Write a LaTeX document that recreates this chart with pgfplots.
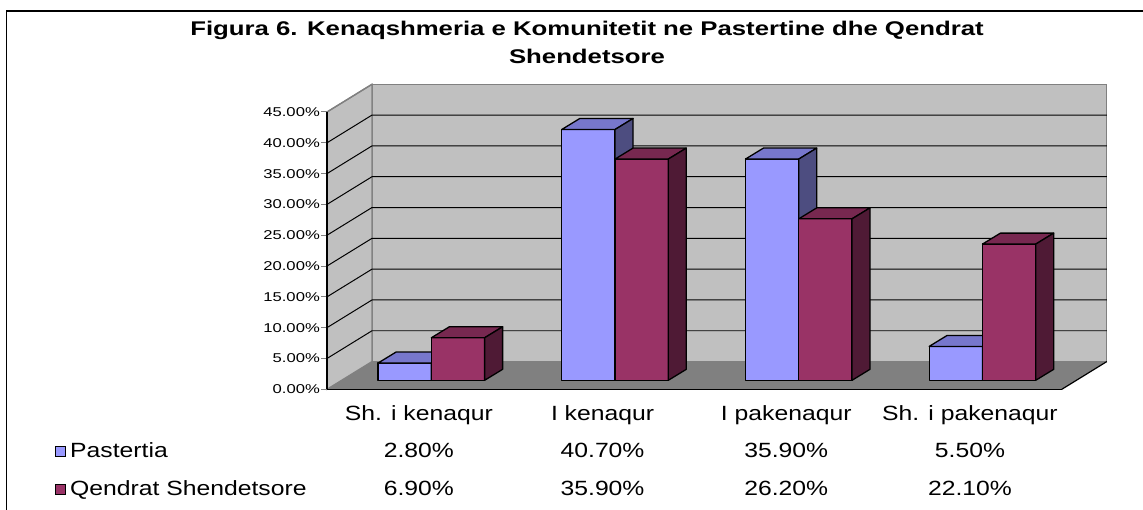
\documentclass[border=0pt]{standalone}
\usepackage{fontspec}
\setmainfont{Liberation Sans}[FakeStretch=1.3]
\newfontfamily\tblfamily{Liberation Sans}[FakeStretch=1.2]
\usepackage{pgfplots}
\usepackage{pgfplotstable}
\pgfplotsset{compat=1.18}
\pgfkeys{/pgf/number format/assume math mode=true}

\definecolor{pfront}{HTML}{9999FF}
\definecolor{ptop}{HTML}{7777CC}
\definecolor{pside}{HTML}{4D4D80}
\definecolor{qfront}{HTML}{993366}
\definecolor{qtop}{HTML}{772850}
\definecolor{qside}{HTML}{4F1A35}
\definecolor{wall}{HTML}{C0C0C0}
\definecolor{floorc}{HTML}{808080}

\pgfplotstableread{
cat P Q
0 2.8 6.9
1 40.7 35.9
2 35.9 26.2
3 5.5 22.1
}\datatable

% fake 3D: depth of the walls and of a bar, in axis units
\def\wdx{0.245}\def\wdy{4.5}
\def\bdx{0.098}\def\bdy{1.785}
\def\ybase{1.46}\def\bw{0.29}

\newcommand\drawbar[5]{%
  \pgfmathsetmacro\xa{#1}%
  \pgfmathsetmacro\xb{#1+\bw}%
  \pgfmathsetmacro\xc{#1+\bdx}%
  \pgfmathsetmacro\xd{#1+\bw+\bdx}%
  \pgfmathsetmacro\ya{\ybase}%
  \pgfmathsetmacro\yb{\ybase+#2}%
  \pgfmathsetmacro\yc{\ybase+\bdy}%
  \pgfmathsetmacro\yd{\ybase+#2+\bdy}%
  \edef\temp{%
    \noexpand\addplot[fill=#3,draw=black,line width=1.3pt,line join=round] coordinates {(\xa,\ya) (\xb,\ya) (\xb,\yb) (\xa,\yb)} -- cycle;
    \noexpand\addplot[fill=#4,draw=black,line width=1.3pt,line join=round] coordinates {(\xa,\yb) (\xc,\yd) (\xd,\yd) (\xb,\yb)} -- cycle;
    \noexpand\addplot[fill=#5,draw=black,line width=1.3pt,line join=round] coordinates {(\xb,\ya) (\xd,\yc) (\xd,\yd) (\xb,\yb)} -- cycle;
  }\temp
}

\newcommand\tblfont{\tblfamily\fontsize{20.6bp}{24bp}\selectfont}

\begin{document}
\begin{tikzpicture}[x=1bp,y=1bp]
\useasboundingbox (0,0) rectangle (1143,510);
\draw[line width=1.5bp] (6.5,0) -- (6.5,499) -- (1143,499);

\node[anchor=base,font=\fontsize{19.8bp}{24bp}\selectfont\bfseries] at (587,474.5)
  {Figura 6. Kenaqshmeria e Komunitetit ne Pastertine dhe Qendrat};
\node[anchor=base,font=\fontsize{19.8bp}{24bp}\selectfont\bfseries] at (587,446) {Shendetsore};

\begin{axis}[
  at={(327bp,120.7bp)}, anchor=south west,
  scale only axis, width=734.8bp, height=277.3bp,
  xmin=-0.5, xmax=3.5, ymin=0, ymax=45,
  clip=false, axis on top,
  axis y line*=left, axis x line*=bottom,
  axis line style={line width=1.3pt},
  xtick={0,1,2,3},
  xticklabels={Sh. i kenaqur, I kenaqur, I pakenaqur, Sh. i pakenaqur},
  xtick style={draw=none},
  xticklabel style={anchor=base, yshift=-25.3bp, font=\tblfont},
  ytick={0,5,...,45},
  tick align=outside, major tick length=6bp,
  ytick style={line width=1pt},
  yticklabel={\pgfmathprintnumber[fixed,fixed zerofill,precision=2]{\tick}\%},
  yticklabel style={font=\fontsize{12.8bp}{14bp}\selectfont, inner sep=1bp},
]
% walls and floor
\fill[wall, draw=floorc, line width=1.3pt] (axis cs:-0.255,4.5) rectangle (axis cs:3.745,49.5);
\fill[wall, draw=floorc, line width=1.3pt] (axis cs:-0.5,0) -- (axis cs:-0.255,4.5) -- (axis cs:-0.255,49.5) -- (axis cs:-0.5,45) -- cycle;
\fill[floorc] (axis cs:-0.5,0) -- (axis cs:3.5,0) -- (axis cs:3.745,4.5) -- (axis cs:-0.255,4.5) -- cycle;
\draw[black, line width=1.2pt] (axis cs:3.5,0) -- (axis cs:3.745,4.5);
\foreach \v in {5,10,...,40} {
  \pgfmathsetmacro\vb{\v+4.5}
  \edef\temp{\noexpand\draw[black, line width=1pt] (axis cs:-0.5,\v) -- (axis cs:-0.255,\vb) -- (axis cs:3.745,\vb);}
  \temp
}
\draw[floorc, line width=1.3pt] (axis cs:-0.5,45) -- (axis cs:-0.255,49.5);
% bars and data table
\foreach \i in {0,1,2,3} {
  \pgfplotstablegetelem{\i}{P}\of\datatable \let\vp\pgfplotsretval
  \pgfplotstablegetelem{\i}{Q}\of\datatable \let\vq\pgfplotsretval
  \drawbar{\i-0.222}{\vp}{pfront}{ptop}{pside}
  \drawbar{\i+0.068}{\vq}{qfront}{qtop}{qside}
  \edef\temp{%
    \noexpand\node[anchor=base,font=\noexpand\tblfont] at (axis cs:\i,-11.08) {\noexpand\pgfmathprintnumber[fixed,fixed zerofill,precision=2]{\vp}\noexpand\%};
    \noexpand\node[anchor=base,font=\noexpand\tblfont] at (axis cs:\i,-17.25) {\noexpand\pgfmathprintnumber[fixed,fixed zerofill,precision=2]{\vq}\noexpand\%};
  }\temp
}
\end{axis}

% legend keys of the data table
\draw[fill=pfront, line width=1.2bp] (55.5,53.5) rectangle (65.5,63.5);
\draw[fill=qfront, line width=1.2bp] (55.5,15.5) rectangle (65.5,25.5);
\node[anchor=base west, font=\tblfont, inner sep=0pt] at (70,52.4) {Pastertia};
\node[anchor=base west, font=\tblfont, inner sep=0pt] at (70,14.4) {Qendrat Shendetsore};
\end{tikzpicture}
\end{document}
